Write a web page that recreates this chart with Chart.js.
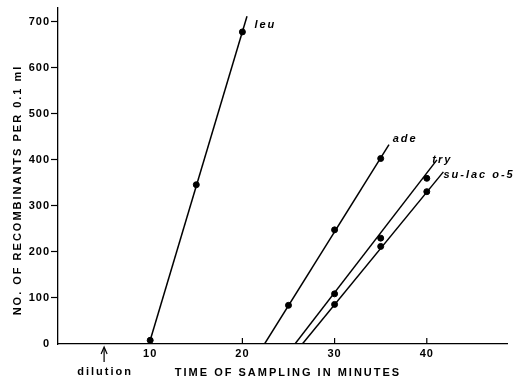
<!DOCTYPE html>
<html>
<head>
<meta charset="utf-8">
<script src="https://cdn.jsdelivr.net/npm/chart.js@4.4.1/dist/chart.umd.min.js"></script>
<style>
  html, body { margin: 0; padding: 0; background: #fff; }
  #wrap { width: 521px; height: 379px; position: relative; }
</style>
</head>
<body>
<div id="wrap"><canvas id="chart"></canvas></div>
<script>
// ---------------------- DATA ------------------------
const xTicks = [10, 20, 30, 40];
const yTicks = [0, 100, 200, 300, 400, 500, 600, 700];

// sampled points (minutes, recombinants per 0.1 ml)
const leuTimes = [10, 15, 20];
const leuCounts = [8, 346, 678];
const adeTimes = [25, 30, 35];
const adeCounts = [84, 248, 403];
const tryTimes = [30, 35, 40];
const tryCounts = [109, 230, 360];
const sulacTimes = [30, 35, 40];
const sulacCounts = [86, 212, 331];

// drawn fitted lines (start / end)
const leuLineX = [10, 20.5];
const leuLineY = [8, 712];
const adeLineX = [22.4, 35.9];
const adeLineY = [0, 433];
const tryLineX = [25.7, 41.1];
const tryLineY = [0, 400];
const sulacLineX = [26.5, 41.8];
const sulacLineY = [0, 374];

const seriesNames = ["leu", "ade", "try", "su-lac o-5"];
// where each name sits (data coords, left edge of text)
const nameX = [21.3, 36.3, 40.6, 41.8];
const nameY = [693, 446, 400, 367];

const dilutionAt = 5;

const toPts = (xs, ys) => xs.map((x, i) => ({ x: x, y: ys[i] }));

function lineSet(xs, ys) {
  return {
    data: toPts(xs, ys),
    showLine: true,
    borderColor: "#000",
    borderWidth: 1.5,
    pointRadius: 0,
    fill: false,
  };
}

function pointSet(xs, ys) {
  return {
    data: toPts(xs, ys),
    showLine: false,
    pointRadius: 3,
    pointBackgroundColor: "#000",
    pointBorderColor: "#000",
  };
}

// ---------------------- EXTRA LETTERING ------------------------
const lettering = {
  id: "lettering",
  beforeDraw(chart) {
    chart.ctx.letterSpacing = "1px";
  },
  afterDraw(chart) {
    const ctx = chart.ctx;
    const xs = chart.scales.x;
    const ys = chart.scales.y;
    const area = chart.chartArea;
    ctx.save();
    ctx.fillStyle = "#000";
    ctx.strokeStyle = "#000";

    // inward ticks on the time axis
    ctx.lineWidth = 1.2;
    xTicks.forEach((v) => {
      const px = xs.getPixelForValue(v);
      ctx.beginPath();
      ctx.moveTo(px, area.bottom);
      ctx.lineTo(px, area.bottom - 6);
      ctx.stroke();
    });

    // series names
    ctx.font = "italic bold 11px 'Liberation Sans'";
    ctx.letterSpacing = "2px";
    ctx.textAlign = "left";
    ctx.textBaseline = "middle";
    seriesNames.forEach((n, i) => {
      ctx.fillText(n, xs.getPixelForValue(nameX[i]), ys.getPixelForValue(nameY[i]));
    });

    // dilution arrow
    const dx = xs.getPixelForValue(dilutionAt);
    ctx.lineWidth = 1.2;
    ctx.beginPath();
    ctx.moveTo(dx, area.bottom + 18);
    ctx.lineTo(dx, area.bottom + 4);
    ctx.stroke();
    ctx.beginPath();
    ctx.moveTo(dx - 3, area.bottom + 10);
    ctx.lineTo(dx, area.bottom + 3);
    ctx.lineTo(dx + 3, area.bottom + 10);
    ctx.stroke();
    ctx.font = "bold 11px 'Liberation Sans'";
    ctx.letterSpacing = "2px";
    ctx.textAlign = "center";
    ctx.fillText("dilution", dx + 1, 372);

    // axis titles
    ctx.font = "bold 11px 'Liberation Sans'";
    ctx.letterSpacing = "2px";
    ctx.fillText("TIME OF SAMPLING IN MINUTES", 288, 373);

    ctx.translate(18, 190);
    ctx.rotate(-Math.PI / 2);
    ctx.fillText("NO. OF RECOMBINANTS PER 0.1 ml", 0, 0);
    ctx.restore();
  },
};

// ---------------------- CHART ------------------------
new Chart(document.getElementById("chart"), {
  type: "scatter",
  data: {
    datasets: [
      lineSet(leuLineX, leuLineY),
      lineSet(adeLineX, adeLineY),
      lineSet(tryLineX, tryLineY),
      lineSet(sulacLineX, sulacLineY),
      pointSet(leuTimes, leuCounts),
      pointSet(adeTimes, adeCounts),
      pointSet(tryTimes, tryCounts),
      pointSet(sulacTimes, sulacCounts),
    ],
  },
  options: {
    responsive: true,
    maintainAspectRatio: false,
    animation: false,
    layout: { padding: { top: 8, right: 14, bottom: 0, left: 0 } },
    plugins: {
      legend: { display: false },
      tooltip: { enabled: false },
    },
    scales: {
      x: {
        type: "linear",
        min: 0,
        max: 48.7,
        afterBuildTicks: (s) => { s.ticks = xTicks.map((v) => ({ value: v })); },
        afterFit: (s) => { s.height = 35; },
        grid: { display: false, drawTicks: false },
        border: { display: true, color: "#000", width: 1.3 },
        ticks: {
          color: "#000",
          padding: 3,
          font: { family: "Liberation Sans", size: 11, weight: "bold" },
        },
      },
      y: {
        type: "linear",
        min: 0,
        max: 730,
        afterBuildTicks: (s) => { s.ticks = yTicks.map((v) => ({ value: v })); },
        afterFit: (s) => { s.width = 58; },
        grid: {
          drawOnChartArea: false,
          drawTicks: true,
          tickLength: 7,
          tickWidth: 1.2,
          tickColor: (c) => (c.tick && c.tick.value === 0 ? "rgba(0,0,0,0)" : "#000"),
        },
        border: { display: true, color: "#000", width: 1.3 },
        ticks: {
          color: "#000",
          padding: 1,
          font: { family: "Liberation Sans", size: 11, weight: "bold" },
        },
      },
    },
  },
  plugins: [lettering],
});
</script>
</body>
</html>
